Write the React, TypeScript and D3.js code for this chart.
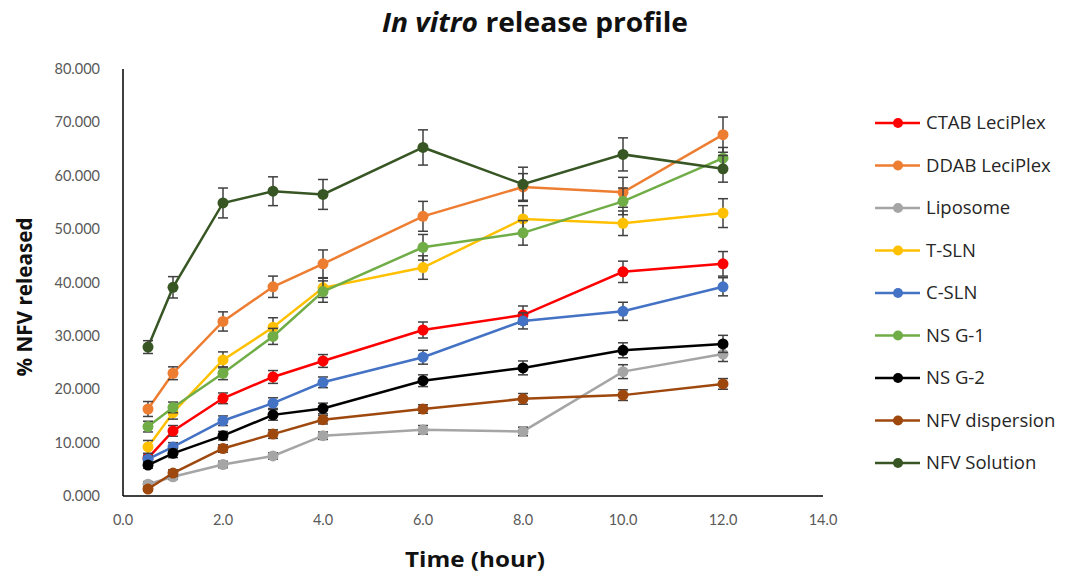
import * as d3 from "d3";

// time points (hours)
const times = [0.5, 1, 2, 3, 4, 6, 8, 10, 12];

const seriesNames = [
  "CTAB LeciPlex",
  "DDAB LeciPlex",
  "Liposome",
  "T-SLN",
  "C-SLN",
  "NS G-1",
  "NS G-2",
  "NFV dispersion",
  "NFV Solution",
];

const seriesColors = [
  "#FF0000",
  "#ED7D31",
  "#A5A5A5",
  "#FFC000",
  "#4472C4",
  "#70AD47",
  "#000000",
  "#9E480E",
  "#375623",
];

// % NFV released, per series
const ctab = [7.1, 12.2, 18.3, 22.3, 25.3, 31.1, 33.9, 42.0, 43.5];
const ddab = [16.3, 23.0, 32.7, 39.2, 43.5, 52.4, 57.9, 56.9, 67.7];
const liposome = [2.2, 3.6, 5.9, 7.5, 11.3, 12.4, 12.1, 23.3, 26.6];
const tsln = [9.2, 15.6, 25.5, 31.6, 39.0, 42.8, 51.9, 51.1, 53.0];
const csln = [6.9, 9.2, 14.1, 17.4, 21.3, 26.0, 32.8, 34.6, 39.2];
const nsg1 = [13.0, 16.6, 23.0, 29.9, 38.3, 46.6, 49.3, 55.2, 63.3];
const nsg2 = [5.8, 8.0, 11.3, 15.2, 16.4, 21.6, 24.0, 27.3, 28.5];
const dispersion = [1.3, 4.3, 8.9, 11.6, 14.3, 16.3, 18.2, 18.9, 21.0];
const solution = [27.9, 39.1, 54.9, 57.1, 56.5, 65.3, 58.4, 64.0, 61.3];

// standard deviations
const ctabErr = [0.8, 1.0, 1.0, 1.2, 1.2, 1.5, 1.7, 2.0, 2.3];
const ddabErr = [1.4, 1.2, 1.8, 2.0, 2.6, 2.8, 2.5, 2.8, 3.3];
const liposomeErr = [0.5, 0.5, 0.6, 0.6, 0.7, 0.8, 0.8, 1.3, 1.4];
const tslnErr = [1.2, 1.2, 1.5, 1.8, 1.8, 2.2, 2.5, 2.3, 2.7];
const cslnErr = [0.6, 0.8, 0.9, 1.0, 1.0, 1.3, 1.5, 1.7, 1.7];
const nsg1Err = [1.0, 1.0, 1.2, 1.5, 2.0, 2.4, 2.3, 2.5, 2.0];
const nsg2Err = [0.6, 0.8, 0.8, 1.0, 1.0, 1.1, 1.3, 1.4, 1.6];
const dispersionErr = [0.4, 0.6, 0.7, 0.8, 0.8, 0.8, 1.0, 1.0, 1.0];
const solutionErr = [1.2, 2.0, 2.8, 2.7, 2.8, 3.3, 3.2, 3.1, 2.5];

const seriesValues = [ctab, ddab, liposome, tsln, csln, nsg1, nsg2, dispersion, solution];
const seriesErrors = [ctabErr, ddabErr, liposomeErr, tslnErr, cslnErr, nsg1Err, nsg2Err, dispersionErr, solutionErr];

const xTicks = [0, 2, 4, 6, 8, 10, 12, 14];
const yTicks = [0, 10, 20, 30, 40, 50, 60, 70, 80];

const W = 1070;
const H = 575;
const margin = { left: 123, right: 247, top: 69, bottom: 79 };
const font = "Lato, 'Open Sans', sans-serif";
const titleFont = "'Open Sans', Lato, sans-serif";

export default function App() {
  const x = d3.scaleLinear().domain([0, 14]).range([margin.left, W - margin.right]);
  const y = d3.scaleLinear().domain([0, 80]).range([H - margin.bottom, margin.top]);

  const line = d3
    .line<number>()
    .x((_, i) => x(times[i]))
    .y((d) => y(d));

  const legendX = 875;
  const legendY = d3.scalePoint<string>().domain(seriesNames).range([123, 463]);

  return (
    <svg
      width={W}
      height={H}
      style={{ position: "absolute", left: 0, top: 0, background: "#fff" }}
      fontFamily={font}
    >
      {/* title */}
      <text
        x={535}
        y={32}
        textAnchor="middle"
        fontSize={26}
        fontWeight="bold"
        fill="#111"
        fontFamily={titleFont}
        textLength={306}
        lengthAdjust="spacingAndGlyphs"
      >
        <tspan fontStyle="italic">In vitro</tspan> release profile
      </text>

      {/* y tick labels */}
      {yTicks.map((t) => (
        <text key={t} x={100} y={y(t)} dy="0.35em" textAnchor="end" fontSize={14.5} fill="#595959">
          {d3.format(".3f")(t)}
        </text>
      ))}

      {/* x tick labels */}
      {xTicks.map((t) => (
        <text key={t} x={x(t)} y={y(0) + 29} textAnchor="middle" fontSize={14.5} fill="#595959">
          {d3.format(".1f")(t)}
        </text>
      ))}

      {/* axis titles */}
      <text
        transform={`translate(32,${297}) rotate(-90)`}
        textAnchor="middle"
        fontSize={21}
        fontWeight="bold"
        fill="#111"
        fontFamily={titleFont}
        textLength={159}
        lengthAdjust="spacingAndGlyphs"
      >
        % NFV released
      </text>
      <text
        x={475}
        y={567}
        textAnchor="middle"
        fontSize={21}
        fontWeight="bold"
        fill="#111"
        fontFamily={titleFont}
        textLength={140}
        lengthAdjust="spacingAndGlyphs"
      >
        Time (hour)
      </text>

      {/* axes */}
      <line x1={x(0)} x2={x(0)} y1={y(80)} y2={y(0)} stroke="#000" strokeWidth={1.5} />
      <line x1={x(0)} x2={x(14)} y1={y(0)} y2={y(0)} stroke="#000" strokeWidth={1.5} />

      {/* series */}
      {seriesValues.map((vals, si) => (
        <g key={seriesNames[si]}>
          <path d={line(vals) ?? ""} fill="none" stroke={seriesColors[si]} strokeWidth={2.5} />
          {vals.map((v, i) => {
            const e = seriesErrors[si][i];
            const cx = x(times[i]);
            return (
              <g key={i} stroke="#404040" strokeWidth={1.5}>
                <line x1={cx} x2={cx} y1={y(v - e)} y2={y(v + e)} />
                <line x1={cx - 5} x2={cx + 5} y1={y(v - e)} y2={y(v - e)} />
                <line x1={cx - 5} x2={cx + 5} y1={y(v + e)} y2={y(v + e)} />
              </g>
            );
          })}
          {vals.map((v, i) => (
            <circle key={i} cx={x(times[i])} cy={y(v)} r={5.5} fill={seriesColors[si]} />
          ))}
        </g>
      ))}

      {/* legend */}
      {seriesNames.map((name, si) => {
        const ly = legendY(name) ?? 0;
        return (
          <g key={name}>
            <line x1={legendX} x2={legendX + 45} y1={ly} y2={ly} stroke={seriesColors[si]} strokeWidth={2.5} />
            <circle cx={legendX + 23} cy={ly} r={5} fill={seriesColors[si]} />
            <text x={legendX + 51} y={ly} dy="0.35em" fontSize={18.5} fill="#262626" fontFamily={titleFont}>
              {name}
            </text>
          </g>
        );
      })}
    </svg>
  );
}
